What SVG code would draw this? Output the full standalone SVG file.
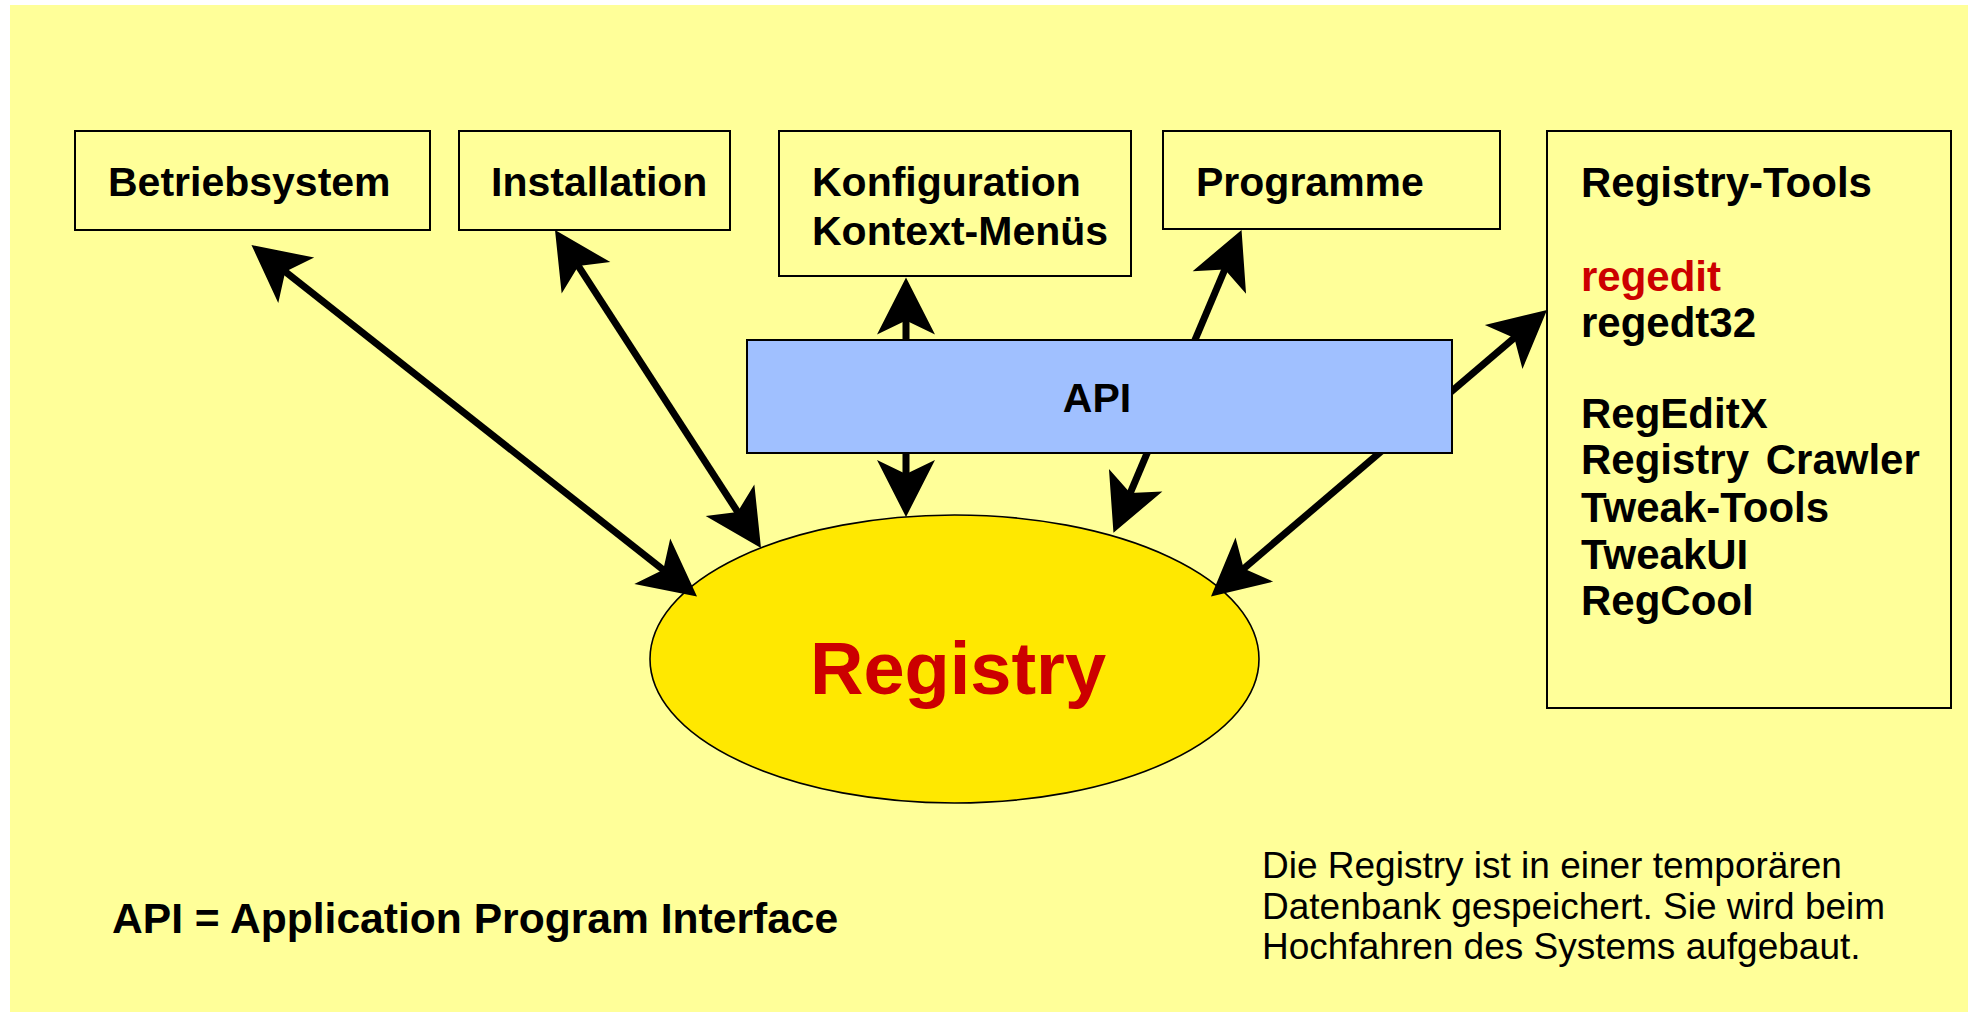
<svg xmlns="http://www.w3.org/2000/svg" width="1968" height="1012" viewBox="0 0 1968 1012">
<defs>
<style>
.box{fill:none;stroke:#000;stroke-width:2}
.lbl{font-family:"Liberation Sans",Arial,sans-serif;font-weight:bold;font-size:41px;fill:#000}
.tool{font-family:"Liberation Sans",Arial,sans-serif;font-weight:bold;font-size:42px;fill:#000}
.note{font-family:"Liberation Sans",Arial,sans-serif;font-size:37px;fill:#000}
.conn{fill:none;stroke:#000;stroke-width:7;marker-start:url(#ah);marker-end:url(#ah)}
</style>
<marker id="ah" markerUnits="userSpaceOnUse" viewBox="0 -29 57 58" markerWidth="57" markerHeight="58" refX="32" refY="0" orient="auto-start-reverse" overflow="visible">
<path d="M0,-29 L57,0 L0,29 L14,0 Z" fill="#000"/>
</marker>
</defs>
<rect x="0" y="0" width="1968" height="1012" fill="#ffffff"/>
<rect x="10" y="5" width="1958" height="1007" fill="#ffff99"/>

<g id="node-betriebsystem">
<rect class="box" x="75" y="131" width="355" height="99"/>
<text class="lbl" x="108" y="196">Betriebsystem</text>
</g>
<g id="node-installation">
<rect class="box" x="459" y="131" width="271" height="99"/>
<text class="lbl" x="491" y="196">Installation</text>
</g>
<g id="node-konfiguration">
<rect class="box" x="779" y="131" width="352" height="145"/>
<text class="lbl" x="812" y="196">Konfiguration</text>
<text class="lbl" x="812" y="245">Kontext-Menüs</text>
</g>
<g id="node-programme">
<rect class="box" x="1163" y="131" width="337" height="98"/>
<text class="lbl" x="1196" y="196">Programme</text>
</g>
<g id="node-registry-tools">
<rect class="box" x="1547" y="131" width="404" height="577"/>
<text class="tool" x="1581" y="197">Registry-Tools</text>
<text class="tool" x="1581" y="291" style="fill:#cc0000">regedit</text>
<text class="tool" x="1581" y="337">regedt32</text>
<text class="tool" x="1581" y="428">RegEditX</text>
<text class="tool" x="1581" y="474" word-spacing="5">Registry Crawler</text>
<text class="tool" x="1581" y="522">Tweak-Tools</text>
<text class="tool" x="1581" y="569">TweakUI</text>
<text class="tool" x="1581" y="615">RegCool</text>
</g>
<g id="node-registry">
<ellipse cx="954.5" cy="659" rx="304.5" ry="144" fill="#ffe800" stroke="#000" stroke-width="1.6"/>
<text x="958" y="694" text-anchor="middle" font-family="'Liberation Sans',Arial,sans-serif" font-weight="bold" font-size="74" fill="#cc0000">Registry</text>
</g>

<g id="connectors">
<path class="conn" d="M271.1,260.5 L677.4,581"/>
<path class="conn" d="M568.6,251 L747.4,527"/>
<path class="conn" d="M906,302.5 L906,492"/>
<path class="conn" d="M1231.8,253 L1123.2,509.7"/>
<path class="conn" d="M1528,326.2 L1230,580.3"/>
</g>

<g id="node-api">
<rect x="747" y="340" width="705" height="113" fill="#a0c0ff" stroke="#000" stroke-width="2"/>
<text class="lbl" x="1097" y="412" text-anchor="middle">API</text>
</g>

<g id="legend">
<text class="tool" x="112" y="933" font-size="42.6" style="font-size:42.6px">API = Application Program Interface</text>
</g>
<g id="note">
<text class="note" x="1262" y="878">Die Registry ist in einer temporären</text>
<text class="note" x="1262" y="919">Datenbank gespeichert. Sie wird beim</text>
<text class="note" x="1262" y="959">Hochfahren des Systems aufgebaut.</text>
</g>
</svg>
